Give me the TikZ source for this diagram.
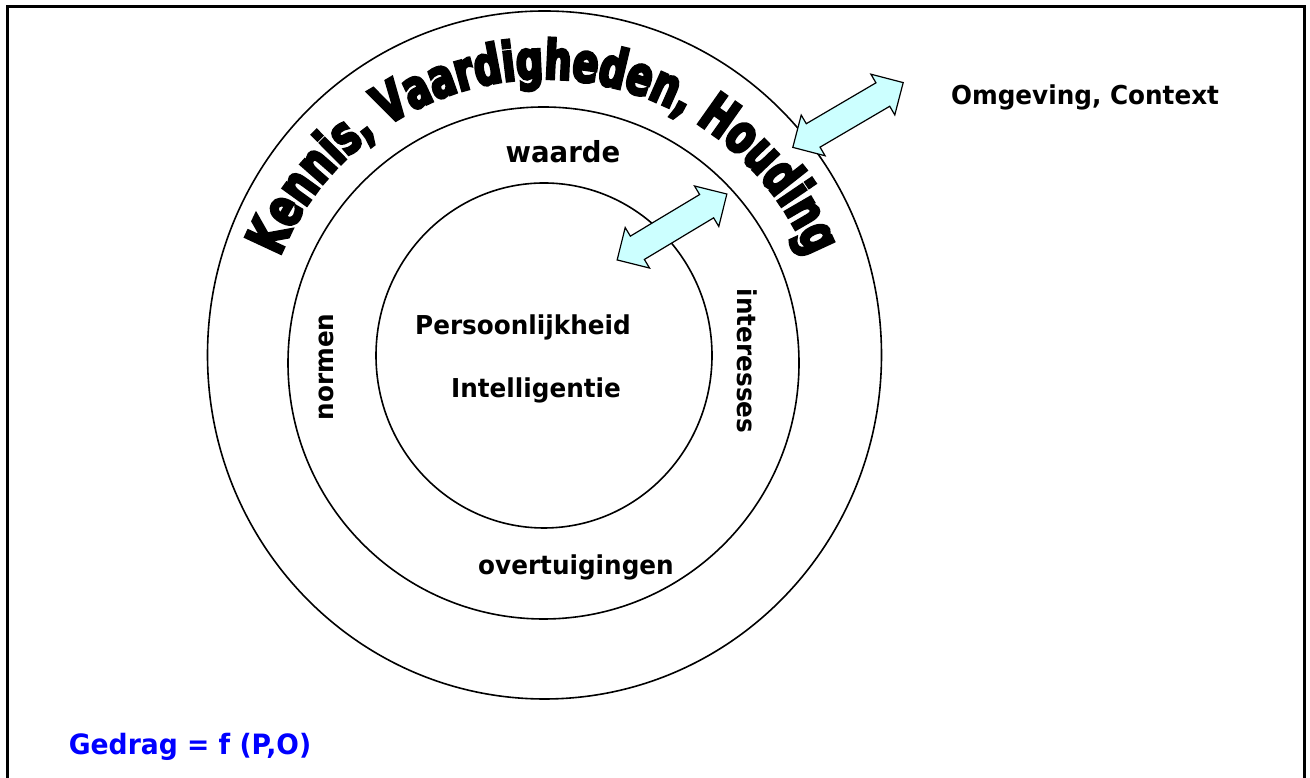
\documentclass[tikz,border=0pt]{standalone}
\usepackage{fontspec}
\setmainfont{DejaVu Sans}[FakeStretch=0.95]
\newfontfamily\archfont{DejaVu Sans}[BoldFeatures={FakeStretch=0.70,FakeBold=5}]
\usetikzlibrary{shapes.arrows,decorations.text}
\definecolor{pijlblauw}{RGB}{204,255,255}
\definecolor{formuleblauw}{RGB}{0,0,255}
\tikzset{
  ring/.style={draw, line width=1.6pt},
  tekst/.style={font=\bfseries\fontsize{26}{30}\selectfont},
  pijl/.style={double arrow, draw, line width=1.2pt, fill=pijlblauw, minimum height=128pt, inner xsep=0pt, inner ysep=13pt, double arrow head extend=10pt}
}
\begin{document}
\begin{tikzpicture}[x=1pt,y=1pt]
\useasboundingbox (0,0) rectangle (1310,778);
% kader
\draw[line width=3pt] (7.5,-20) -- (7.5,771) -- (1304.5,771) -- (1304.5,-20);
% ringen
\coordinate (mbuiten) at (544.5,423);
\coordinate (mmidden) at (543.5,415);
\coordinate (mbinnen) at (544,422.5);
\draw[ring] (mbuiten) ellipse [x radius=337, y radius=344];
\draw[ring] (mmidden) ellipse [x radius=255.5, y radius=256];
\draw[ring] (mbinnen) ellipse [x radius=168, y radius=172.5];
% boogtekst
\coordinate (mboog) at (544,414);
\path[decorate, decoration={text along path, text align=center,
  text={|\archfont\bfseries\fontsize{54}{58}\selectfont|Kennis, Vaardigheden, Houding}}]
  (mboog) ++(165:285) arc[start angle=165, end angle=15, radius=285];
% teksten
\node[tekst, font=\bfseries\fontsize{29}{32}\selectfont] (waarde) at (563,626) {waarde};
\node[tekst] (persoon) at (523,451) {Persoonlijkheid};
\node[tekst] (intel) at (536,388) {Intelligentie};
\node[tekst] (overt) at (576,211) {overtuigingen};
\node[tekst, rotate=90] (normen) at (326,411) {normen};
\node[tekst, rotate=-90] (inter) at (747,417) {interesses};
\node[tekst] (omgeving) at (1085,681) {Omgeving, Context};
\node[tekst, font=\bfseries\fontsize{28}{32}\selectfont, text=formuleblauw] (gedrag) at (190,31) {Gedrag = f (P,O)};
% pijlen
\node[pijl, rotate=31] (pijlbinnen) at (672,551) {};
\node[pijl, rotate=30.4] (pijlbuiten) at (848,663) {};
\end{tikzpicture}
\end{document}
